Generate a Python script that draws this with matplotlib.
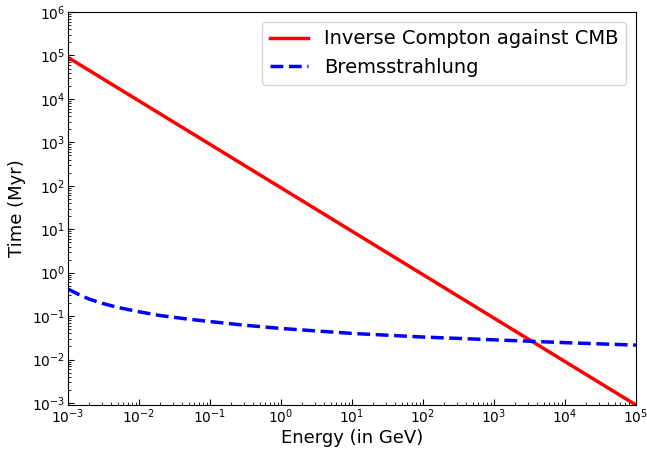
import matplotlib
matplotlib.use('Agg')
import matplotlib.pyplot as plt
import numpy as np

# Energias (GeV) e tempos de perda (Myr)
energia = [1e-3, 1e-2, 1e-1, 1e0, 1e1, 1e2, 1e3, 1e4, 1e5]
tempo_ic = [9e4, 9e3, 9e2, 9e1, 9e0, 9e-1, 9e-2, 9e-3, 9e-4]

energia_brems = [1e-3, 1.5e-3, 2e-3, 3e-3, 5e-3, 1e-2, 2e-2, 5e-2, 1e-1, 3e-1,
                 1e0, 1e1, 1e2, 1e3, 1e4, 1e5]
tempo_brems = [0.42, 0.30, 0.246, 0.198, 0.159, 0.126, 0.103, 0.085, 0.075, 0.062,
               0.052, 0.040, 0.033, 0.0285, 0.0245, 0.0215]

fig = plt.figure(figsize=(6.47, 4.49), dpi=100)
ax = fig.add_axes([68 / 647, 1 - 405 / 449, (636 - 68) / 647, (405 - 12) / 449])

ax.loglog(energia, tempo_ic, color='red', linewidth=2.5, label='Inverse Compton against CMB')
ax.loglog(energia_brems, tempo_brems, color='blue', linewidth=2.5, linestyle='--',
          label='Bremsstrahlung')

ax.set_xlim(1e-3, 1e5)
ax.set_ylim(9e-4, 1e6)
ax.set_xticks([1e-3, 1e-2, 1e-1, 1e0, 1e1, 1e2, 1e3, 1e4, 1e5])
ax.set_yticks([1e-3, 1e-2, 1e-1, 1e0, 1e1, 1e2, 1e3, 1e4, 1e5, 1e6])

ax.tick_params(which='both', direction='in', top=False, right=False, labelsize=10, pad=2)
ax.tick_params(which='major', length=4)
ax.tick_params(which='minor', length=2)

ax.set_xlabel('Energy (in GeV)', fontsize=13, labelpad=2)
ax.set_ylabel('Time (Myr)', fontsize=13, labelpad=4)

ax.legend(loc='upper right', fontsize=14)

plt.savefig('out.png', dpi=100)
plt.close()
